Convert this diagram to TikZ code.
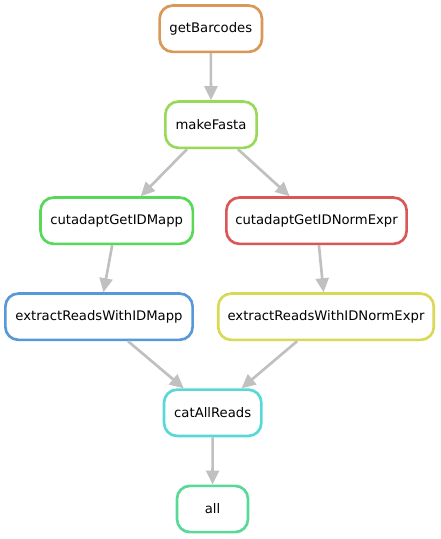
\documentclass[tikz,border=0pt]{standalone}
\usepackage{fontspec}
\setmainfont{DejaVu Sans}
\usetikzlibrary{arrows.meta}
\definecolor{cred}{RGB}{217,87,87}
\definecolor{corange}{RGB}{217,152,87}
\definecolor{cyellow}{RGB}{217,217,87}
\definecolor{cygreen}{RGB}{152,217,87}
\definecolor{cgreen}{RGB}{87,217,87}
\definecolor{ctgreen}{RGB}{87,217,152}
\definecolor{ccyan}{RGB}{87,217,217}
\definecolor{cblue}{RGB}{87,152,217}
\definecolor{edgegrey}{RGB}{192,192,192}
\begin{document}
\begin{tikzpicture}[x=1pt,y=-1pt,
  rule/.style={draw, line width=2.67pt, rounded corners=13pt, minimum height=46.3pt, inner sep=0pt, fill=white, text=black, font=\fontsize{13.2}{16}\selectfont},
  edge/.style={draw=edgegrey, line width=2.67pt, -{Triangle[length=14pt,width=13pt]}}]
\useasboundingbox (0,0) rectangle (440,539);
\node[rule, draw=corange, minimum width=102.3pt] (getBarcodes) at (210.8,28.7) {getBarcodes};
\node[rule, draw=cygreen, minimum width=91.3pt] (makeFasta) at (211,124.7) {makeFasta};
\node[rule, draw=cgreen, minimum width=152.3pt] (cutMapp) at (116.7,220.7) {cutadaptGetIDMapp};
\node[rule, draw=cred, minimum width=180.3pt] (cutNorm) at (316.5,220.7) {cutadaptGetIDNormExpr};
\node[rule, draw=cblue, minimum width=187.3pt] (extMapp) at (99,316.7) {extractReadsWithIDMapp};
\node[rule, draw=cyellow, minimum width=215.6pt] (extNorm) at (326,316.7) {extractReadsWithIDNormExpr};
\node[rule, draw=ccyan, minimum width=97.3pt] (cat) at (212.7,412.8) {catAllReads};
\node[rule, draw=ctgreen, minimum width=71pt] (all) at (212.5,509) {all};
\draw[edge] (getBarcodes) -- (makeFasta);
\draw[edge] (makeFasta) -- (cutMapp);
\draw[edge] (makeFasta) -- (cutNorm);
\draw[edge] (cutMapp) -- (extMapp);
\draw[edge] (cutNorm) -- (extNorm);
\draw[edge] (extMapp) -- (cat);
\draw[edge] (extNorm) -- (cat);
\draw[edge] (cat) -- (all);
\end{tikzpicture}
\end{document}
